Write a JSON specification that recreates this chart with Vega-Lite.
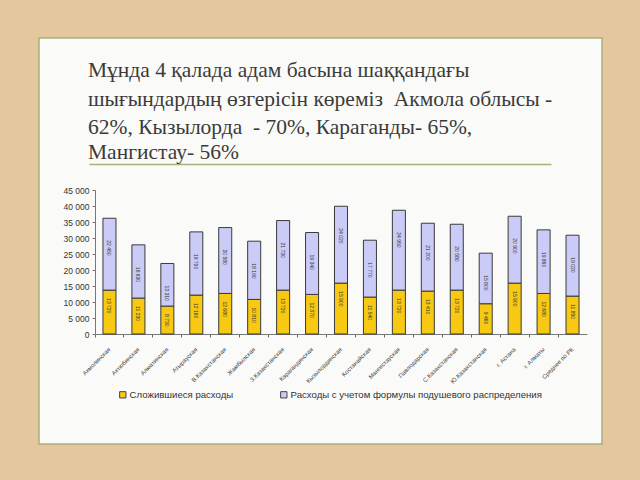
{
  "$schema": "https://vega.github.io/schema/vega-lite/v6.json",
  "width": 563,
  "height": 406,
  "autosize": {"type": "none"},
  "padding": {"left": 39, "top": 38, "right": 38, "bottom": 36},
  "background": "#e4c79f",
  "config": {
    "locale": {"number": {"decimal": ",", "thousands": " ", "grouping": [3], "currency": ["", ""]}},
    "view": {"fill": "#fafaf8", "stroke": "#a8b07a", "strokeWidth": 1.5},
    "font": "Liberation Sans"
  },
  "title": {
    "text": ["Мұнда 4 қалада адам басына шаққандағы", "шығындардың өзгерісін көреміз\u00a0 Акмола облысы -", "62%, Кызылорда\u00a0 - 70%, Караганды- 65%,"],
    "subtitle": "Мангистау- 56%",
    "anchor": "start",
    "frame": "group",
    "font": "Liberation Serif",
    "fontSize": 21.5,
    "fontWeight": "normal",
    "color": "#3a3a3a",
    "lineHeight": 28.5,
    "subtitleFont": "Liberation Serif",
    "subtitleFontSize": 21.5,
    "subtitleColor": "#3a3a3a",
    "subtitleLineHeight": 23,
    "subtitlePadding": 3,
    "offset": -125,
    "dx": 49
  },
  "data": {
    "values": [
      {"region": "Акмолинская", "series": "Сложившиеся расходы", "value": 13720},
      {"region": "Акмолинская", "series": "Расходы с учетом формулы подушевого распределения", "value": 22450},
      {"region": "Актюбинская", "series": "Сложившиеся расходы", "value": 11230},
      {"region": "Актюбинская", "series": "Расходы с учетом формулы подушевого распределения", "value": 16630},
      {"region": "Алматинская", "series": "Сложившиеся расходы", "value": 8730},
      {"region": "Алматинская", "series": "Расходы с учетом формулы подушевого распределения", "value": 13310},
      {"region": "Атырауская", "series": "Сложившиеся расходы", "value": 12160},
      {"region": "Атырауская", "series": "Расходы с учетом формулы подушевого распределения", "value": 19750},
      {"region": "В.Казахстанская", "series": "Сложившиеся расходы", "value": 12680},
      {"region": "В.Казахстанская", "series": "Расходы с учетом формулы подушевого распределения", "value": 20580},
      {"region": "Жамбылская", "series": "Сложившиеся расходы", "value": 10810},
      {"region": "Жамбылская", "series": "Расходы с учетом формулы подушевого распределения", "value": 18190},
      {"region": "З.Казахстанская", "series": "Сложившиеся расходы", "value": 13720},
      {"region": "З.Казахстанская", "series": "Расходы с учетом формулы подушевого распределения", "value": 21730},
      {"region": "Карагандинская", "series": "Сложившиеся расходы", "value": 12370},
      {"region": "Карагандинская", "series": "Расходы с учетом формулы подушевого распределения", "value": 19340},
      {"region": "Кызылординская", "series": "Сложившиеся расходы", "value": 15900},
      {"region": "Кызылординская", "series": "Расходы с учетом формулы подушевого распределения", "value": 24020},
      {"region": "Костанайская", "series": "Сложившиеся расходы", "value": 11540},
      {"region": "Костанайская", "series": "Расходы с учетом формулы подушевого распределения", "value": 17770},
      {"region": "Мангистауская", "series": "Сложившиеся расходы", "value": 13720},
      {"region": "Мангистауская", "series": "Расходы с учетом формулы подушевого распределения", "value": 24950},
      {"region": "Павлодарская", "series": "Сложившиеся расходы", "value": 13410},
      {"region": "Павлодарская", "series": "Расходы с учетом формулы подушевого распределения", "value": 21200},
      {"region": "С.Казахстанская", "series": "Сложившиеся расходы", "value": 13720},
      {"region": "С.Казахстанская", "series": "Расходы с учетом формулы подушевого распределения", "value": 20580},
      {"region": "Ю.Казахстанская", "series": "Сложившиеся расходы", "value": 9460},
      {"region": "Ю.Казахстанская", "series": "Расходы с учетом формулы подушевого распределения", "value": 15800},
      {"region": "г. Астана", "series": "Сложившиеся расходы", "value": 15900},
      {"region": "г. Астана", "series": "Расходы с учетом формулы подушевого распределения", "value": 20900},
      {"region": "г. Алматы", "series": "Сложившиеся расходы", "value": 12680},
      {"region": "г. Алматы", "series": "Расходы с учетом формулы подушевого распределения", "value": 19860},
      {"region": "Среднее по РК", "series": "Сложившиеся расходы", "value": 11850},
      {"region": "Среднее по РК", "series": "Расходы с учетом формулы подушевого распределения", "value": 19020}
    ]
  },
  "resolve": {"scale": {"x": "independent"}, "axis": {"x": "independent"}},
  "layer": [
    {
      "mark": {"type": "bar", "stroke": "#3a3a3a", "strokeWidth": 1},
      "encoding": {
        "x": {
          "field": "region",
          "type": "nominal",
          "sort": null,
          "scale": {"paddingInner": 0.55, "paddingOuter": 0.275, "range": [56, 548]},
          "axis": {
            "title": null,
            "offset": -110,
            "labelAngle": -45,
            "labelAlign": "right",
            "labelBaseline": "middle",
            "labelFontSize": 6,
            "labelColor": "#444444",
            "labelPadding": 11,
            "labelLimit": 0,
            "tickSize": 3,
            "tickColor": "#666666",
            "domainColor": "#777777",
            "bandPosition": -0.611
          }
        },
        "y": {
          "field": "value",
          "type": "quantitative",
          "stack": "zero",
          "scale": {"domain": [0, 45000], "nice": false, "range": [296, 152]},
          "axis": {
            "title": null,
            "offset": -56,
            "values": [0, 5000, 10000, 15000, 20000, 25000, 30000, 35000, 40000, 45000],
            "format": ",.0f",
            "labelFontSize": 8.5,
            "labelColor": "#333333",
            "labelPadding": 3,
            "tickSize": 3,
            "tickColor": "#777777",
            "domainColor": "#777777",
            "grid": false
          }
        },
        "color": {
          "field": "series",
          "type": "nominal",
          "scale": {
            "domain": ["Сложившиеся расходы", "Расходы с учетом формулы подушевого распределения"],
            "range": ["#f7c913", "#cbcbf7"]
          },
          "legend": {
            "title": null,
            "orient": "none",
            "legendX": 79,
            "legendY": 352,
            "direction": "horizontal",
            "labelFont": "Liberation Sans",
            "labelFontSize": 9.6,
            "labelColor": "#333333",
            "symbolType": "square",
            "symbolSize": 40,
            "symbolStrokeColor": "#444444",
            "symbolStrokeWidth": 1,
            "columnPadding": 44,
            "labelOffset": 2,
            "labelLimit": 0
          }
        },
        "order": {"field": "series", "sort": "descending"}
      }
    },
    {
      "transform": [
        {"stack": "value", "groupby": ["region"], "sort": [{"field": "series", "order": "descending"}], "as": ["v0", "v1"]},
        {"filter": "datum.series === 'Сложившиеся расходы'"}
      ],
      "mark": {"type": "text", "angle": 90, "align": "left", "baseline": "middle", "dx": 8, "fontSize": 5, "color": "#333333"},
      "encoding": {
        "x": {
          "field": "region",
          "type": "nominal",
          "sort": null,
          "scale": {"paddingInner": 0.55, "paddingOuter": 0.275, "range": [56, 548]},
          "axis": null
        },
        "y": {
          "field": "v1",
          "type": "quantitative",
          "axis": {
            "title": null,
            "offset": -56,
            "values": [0, 5000, 10000, 15000, 20000, 25000, 30000, 35000, 40000, 45000],
            "format": ",.0f",
            "labelFontSize": 8.5,
            "labelColor": "#333333",
            "labelPadding": 3,
            "tickSize": 3,
            "tickColor": "#777777",
            "domainColor": "#777777",
            "grid": false
          }
        },
        "text": {"field": "value", "type": "quantitative", "format": ",.0f"}
      }
    },
    {
      "transform": [
        {"stack": "value", "groupby": ["region"], "sort": [{"field": "series", "order": "descending"}], "as": ["v0", "v1"]},
        {"filter": "datum.series !== 'Сложившиеся расходы'"}
      ],
      "mark": {"type": "text", "angle": 90, "align": "left", "baseline": "middle", "dx": 22, "fontSize": 5, "color": "#333333"},
      "encoding": {
        "x": {
          "field": "region",
          "type": "nominal",
          "sort": null,
          "scale": {"paddingInner": 0.55, "paddingOuter": 0.275, "range": [56, 548]},
          "axis": null
        },
        "y": {
          "field": "v1",
          "type": "quantitative",
          "axis": {
            "title": null,
            "offset": -56,
            "values": [0, 5000, 10000, 15000, 20000, 25000, 30000, 35000, 40000, 45000],
            "format": ",.0f",
            "labelFontSize": 8.5,
            "labelColor": "#333333",
            "labelPadding": 3,
            "tickSize": 3,
            "tickColor": "#777777",
            "domainColor": "#777777",
            "grid": false
          }
        },
        "text": {"field": "value", "type": "quantitative", "format": ",.0f"}
      }
    },
    {
      "mark": {"type": "point", "opacity": 0},
      "encoding": {
        "x": {
          "field": "region",
          "type": "nominal",
          "sort": null,
          "scale": {"range": [50, 512]},
          "axis": {
            "orient": "top",
            "offset": -126,
            "title": null,
            "labels": false,
            "ticks": false,
            "domainColor": "#a9b07c",
            "domainWidth": 1.5
          }
        }
      }
    }
  ]
}
